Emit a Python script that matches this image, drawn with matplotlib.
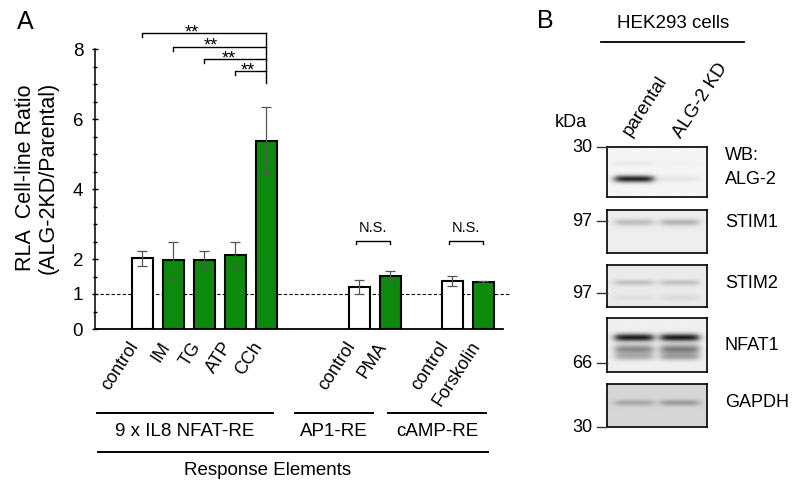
import numpy as np
import matplotlib.pyplot as plt
from matplotlib.transforms import blended_transform_factory

plt.rcParams['font.family'] = ['Liberation Sans', 'DejaVu Sans']

# ---- panel A: luciferase ratio
labels = ['control', 'IM', 'TG', 'ATP', 'CCh', 'control', 'PMA', 'control', 'Forskolin']
pos = [0, 1, 2, 3, 4, 7, 8, 10, 11]
ratio = [2.02, 1.97, 1.97, 2.11, 5.36, 1.19, 1.52, 1.37, 1.35]
err = [0.22, 0.53, 0.25, 0.39, 0.97, 0.20, 0.13, 0.15, 0.03]
is_ctrl = [1, 0, 0, 0, 0, 1, 0, 1, 0]

groups = ['9 x IL8 NFAT-RE', 'AP1-RE', 'cAMP-RE']
group_span = [(-1.47, 4.21), (4.92, 7.44), (7.92, 11.08)]

sig_from = [0, 1, 2, 3]   # each one vs CCh
sig_to = 4
sig_y = [8.45, 8.07, 7.71, 7.37]
ns_pairs = [(5, 6), (7, 8)]

# ---- panel B: western blot
lanes = ['parental', 'ALG-2 KD']
blots = ['ALG-2', 'STIM1', 'STIM2', 'NFAT1', 'GAPDH']
blot_bg = [0.96, 0.93, 0.92, 0.94, 0.84]
# bands: (row 0..1 from top, thickness, parental darkness, KD darkness)
blot_bands = [
  [(0.64, 0.07, 0.85, 0.06), (0.33, 0.05, 0.05, 0.02)],
  [(0.30, 0.08, 0.20, 0.24)],
  [(0.42, 0.07, 0.18, 0.18), (0.78, 0.07, 0.05, 0.07)],
  [(0.36, 0.07, 0.88, 0.88), (0.58, 0.09, 0.42, 0.48), (0.72, 0.07, 0.25, 0.30)],
  [(0.45, 0.07, 0.22, 0.28)],
]
marker_kda = ['30', '97', '97', '66', '30']

W, H = 793, 486
def fx(x): return x / W
def fy(y): return 1 - y / H

fig = plt.figure(figsize=(W/100, H/100), dpi=100)

# ================= panel A
ax = fig.add_axes([fx(95), fy(329), fx(503)-fx(95), fy(49)-fy(329)])
green = '#0b8a0b'
cols = ['white' if c else green for c in is_ctrl]
ax.bar(pos, ratio, width=0.65, color=cols, edgecolor='black', linewidth=1.5, zorder=2)
ax.errorbar(pos, ratio, yerr=err, fmt='none', ecolor='#555555', elinewidth=0.9,
            capsize=3.5, capthick=0.9, zorder=3)
ax.plot([-1.37, 11.9], [1, 1], ls=(0, (3, 2)), color='black', lw=0.8, clip_on=False, zorder=1)

ax.set_xlim(-1.53, 11.63)
ax.set_ylim(0, 8)
for s in ['top', 'right']:
  ax.spines[s].set_visible(False)
ax.spines['left'].set_linewidth(1.1)
ax.spines['bottom'].set_linewidth(1.3)
ax.set_yticks([0, 1, 2, 4, 6, 8])
ax.set_yticks(np.arange(0, 8.01, 0.5), minor=True)
ax.tick_params(axis='y', which='major', direction='inout', length=5, width=1, labelsize=13.5, pad=6)
ax.tick_params(axis='y', which='minor', direction='inout', length=3.5, width=1)
ax.set_xticks(pos)
ax.set_xticklabels(labels, rotation=57, ha='right', va='top', fontsize=13)
ax.tick_params(axis='x', length=0, pad=7)

# significance brackets
for i, y in zip(sig_from, sig_y):
  x0, x1 = pos[i], pos[sig_to]
  ax.plot([x0, x0, x1], [y - 0.12, y, y], color='black', lw=1, clip_on=False)
  ax.text(x0 + 0.4*(x1 - x0), y - 0.12, '**', ha='center', va='baseline', fontsize=13)
ax.plot([pos[sig_to]]*2, [sig_y[0], 7.02], color='black', lw=1, clip_on=False)

for a, b in ns_pairs:
  x0, x1 = pos[a] - 0.1, pos[b]
  ax.plot([x0, x0, x1, x1], [2.42, 2.51, 2.51, 2.42], color='black', lw=1, clip_on=False)
  ax.text((x0 + x1)/2, 2.78, 'N.S.', ha='center', va='baseline', fontsize=10.5)

# group annotations under the axis
tr = blended_transform_factory(ax.transData, ax.transAxes)
for g, (a, b) in zip(groups, group_span):
  ax.plot([a, b], [-0.301, -0.301], color='black', lw=1.4, transform=tr, clip_on=False)
  ax.text((a + b)/2, -0.367, g, transform=tr, ha='center', va='center', fontsize=13.5)
ax.plot([-1.44, 11.15], [-0.438, -0.438], color='black', lw=1.4, transform=tr, clip_on=False)
ax.text(4.05, -0.507, 'Response Elements', transform=tr, ha='center', va='center', fontsize=13.5)

fig.text(fx(37), fy(178), 'RLA  Cell-line Ratio\n(ALG-2KD/Parental)', rotation=90,
         ha='center', va='center', fontsize=15.5, linespacing=1.1)
fig.text(fx(25), fy(22), 'A', ha='center', va='center', fontsize=18)

# ================= panel B
fig.text(fx(545), fy(21), 'B', ha='center', va='center', fontsize=18)
fig.text(fx(673), fy(24), 'HEK293 cells', ha='center', va='center', fontsize=13.5)
fig.add_artist(plt.Line2D([fx(601), fx(744)], [fy(42), fy(42)], color='black', lw=1.3))
fig.text(fx(571), fy(122), 'kDa', ha='center', va='center', fontsize=13)
lane_anchor = [(630, 137), (681, 139)]
for name, (x, y) in zip(lanes, lane_anchor):
  fig.text(fx(x), fy(y), name, rotation=57, rotation_mode='anchor', ha='left', va='baseline', fontsize=13.5)
fig.text(fx(725), fy(155), 'WB:', ha='left', va='center', fontsize=13)

box_top = [147, 210, 265, 318, 384]
box_bot = [197, 253, 307, 372, 427]
marker_y = [147, 221, 293, 363, 427]
name_y = [180, 222, 284, 345, 402]
lane_x = [(0.08, 0.46), (0.54, 0.92)]

yy, xx = np.mgrid[0:1:90j, 0:1:160j]
def lane_mask(a, b, s=0.05):
  return 0.5 * (np.tanh((xx - a)/s) - np.tanh((xx - b)/s))

for k in range(len(blots)):
  dark = np.zeros_like(xx)
  for (yc, sy, p, kd) in blot_bands[k]:
    prof = np.exp(-((yy - yc)/sy)**2)
    dark += prof * (p*lane_mask(*lane_x[0]) + kd*lane_mask(*lane_x[1]))
  img = blot_bg[k] * (1 - np.clip(dark, 0, 1))
  bax = fig.add_axes([fx(607), fy(box_bot[k]), fx(707) - fx(607), fy(box_top[k]) - fy(box_bot[k])])
  bax.imshow(img, cmap='gray', vmin=0, vmax=1, extent=(0, 1, 1, 0), aspect='auto', interpolation='bilinear')
  bax.set_xticks([]); bax.set_yticks([])
  for s in bax.spines.values():
    s.set_linewidth(1.2)
  fig.add_artist(plt.Line2D([fx(597), fx(607)], [fy(marker_y[k])]*2, color='#333333', lw=1))
  fig.text(fx(592), fy(marker_y[k]), marker_kda[k], ha='right', va='center', fontsize=13)
  fig.text(fx(725), fy(name_y[k]), blots[k], ha='left', va='center', fontsize=13)

fig.savefig('out.png', dpi=100)
